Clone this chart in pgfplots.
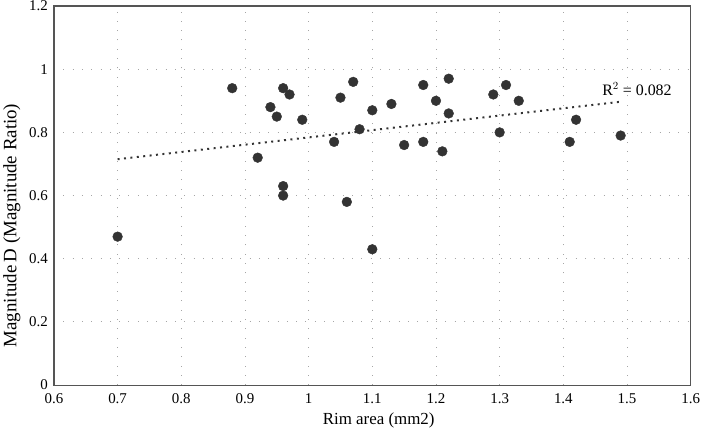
\documentclass[border=0pt]{standalone}
\usepackage{pgfplots}
\pgfplotsset{compat=1.18}
\usepackage{fontspec}
\setmainfont{Liberation Serif}
\definecolor{ptc}{HTML}{333333}
\definecolor{axc}{HTML}{555555}
\begin{document}
\begin{tikzpicture}
\begin{axis}[
  scale only axis,
  width=640bp, height=381bp,
  xmin=0.6, xmax=1.6, ymin=0, ymax=1.2,
  xtick={0.6,0.7,...,1.6}, ytick={0,0.2,...,1.2},
  xticklabels={0.6,0.7,0.8,0.9,1,1.1,1.2,1.3,1.4,1.5,1.6},
  yticklabels={0,0.2,0.4,0.6,0.8,1,1.2},
  /pgf/number format/assume math mode=true,
  ticklabel style={font=\fontsize{15bp}{17bp}\selectfont, inner sep=1bp},
  major tick length=0pt,
  axis line style={axc, line width=1.2pt},
  grid=major,
  major grid style={gray!70, line width=0.9pt, dash pattern=on 0.9pt off 8.5pt},
  xlabel={Rim area (mm2)},
  ylabel={Magnitude\,D (Magnitude Ratio)},
  xlabel style={font=\fontsize{17bp}{19bp}\selectfont, at={(axis description cs:0.51,-0.093)}, anchor=center},
  ylabel style={font=\fontsize{19bp}{21bp}\selectfont, at={(axis description cs:-0.066,0.421)}, anchor=center},
  xticklabel style={yshift=-7.5bp},
  yticklabel style={xshift=-5bp},
  clip=false,
]
\addplot[only marks, mark=*, mark size=4.9bp, mark options={fill=ptc, draw=ptc}] coordinates {
(0.70,0.47) (0.88,0.94) (0.92,0.72) (0.94,0.88) (0.95,0.85) (0.96,0.94)
(0.97,0.92) (0.96,0.63) (0.96,0.60) (0.99,0.84) (1.04,0.77) (1.05,0.91)
(1.06,0.58) (1.07,0.96) (1.08,0.81) (1.10,0.87) (1.10,0.43) (1.13,0.89)
(1.15,0.76) (1.18,0.95) (1.18,0.77) (1.20,0.90) (1.21,0.74) (1.22,0.97)
(1.22,0.86) (1.29,0.92) (1.30,0.80) (1.31,0.95) (1.33,0.90) (1.41,0.77)
(1.42,0.84) (1.49,0.79)
};
\addplot[ptc, line width=2pt, dash pattern=on 2pt off 4.5pt] coordinates {(0.70,0.715) (1.49,0.897)};
\node[anchor=west, inner sep=0pt, font=\fontsize{16bp}{18bp}\selectfont] at (axis cs:1.461,0.936) {R$^{2}$ = 0.082};
\end{axis}
\end{tikzpicture}
\end{document}
